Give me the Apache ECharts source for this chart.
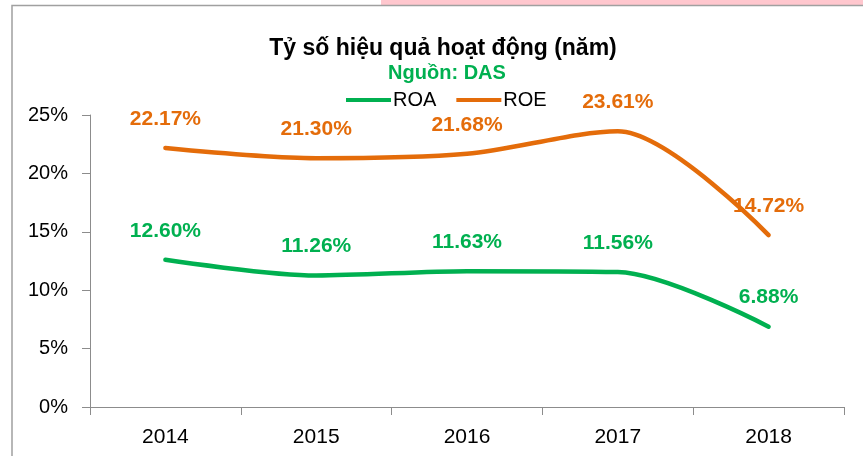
<!DOCTYPE html>
<html>
<head>
<meta charset="utf-8">
<script src="https://cdn.jsdelivr.net/npm/echarts@6/dist/echarts.min.js"></script>
<style>
  html, body { margin: 0; padding: 0; background: #fff; }
  #chart { width: 863px; height: 456px; }
</style>
</head>
<body>
<div id="chart"></div>
<script>
// data (percent)
const years = ['2014', '2015', '2016', '2017', '2018'];
const roa = [12.60, 11.26, 11.63, 11.56, 6.88];
const roe = [22.17, 21.30, 21.68, 23.61, 14.72];
const yTicks = { min: 0, max: 25, interval: 5 };

const GREEN = '#00b050';
const ORANGE = '#e46c0a';
const AXIS = '#8c8c8c';
const FONT = 'Liberation Sans, Arial, sans-serif';

const chart = echarts.init(document.getElementById('chart'), null, { renderer: 'canvas' });

function lineSeries(name, data, color) {
  return {
    name: name,
    type: 'line',
    data: data,
    smooth: 0.3,
    symbol: 'circle',
    symbolSize: 1,
    itemStyle: { color: color },
    lineStyle: { color: color, width: 4.5, cap: 'round' },
    label: {
      show: true,
      position: 'top',
      distance: 18,
      color: color,
      fontFamily: FONT,
      fontWeight: 'bold',
      fontSize: 21,
      formatter: (p) => p.value.toFixed(2) + '%',
    },
  };
}

chart.setOption({
  animation: false,
  backgroundColor: '#fff',
  title: [
    {
      text: 'Tỷ số hiệu quả hoạt động (năm)',
      left: 438, top: 32, textAlign: 'center',
      textStyle: { fontFamily: FONT, fontWeight: 'bold', fontSize: 23, color: '#000' },
    },
    {
      text: 'Nguồn: DAS',
      left: 442, top: 58, textAlign: 'center',
      textStyle: { fontFamily: FONT, fontWeight: 'bold', fontSize: 20, color: GREEN },
    },
  ],
  legend: {
    left: 341, top: 85,
    icon: 'rect',
    itemWidth: 45, itemHeight: 4,
    itemGap: 20,
    textStyle: { fontFamily: FONT, fontSize: 20, color: '#000', padding: [0, 0, 0, -3] },
    data: ['ROA', 'ROE'],
  },
  grid: { left: 90, right: 19, top: 115, bottom: 49 },
  xAxis: {
    type: 'category',
    data: years,
    boundaryGap: true,
    axisLine: { lineStyle: { color: AXIS, width: 1 } },
    axisTick: { show: true, length: 8, alignWithLabel: false, lineStyle: { color: AXIS } },
    axisLabel: { margin: 20, color: '#000', fontFamily: FONT, fontSize: 21 },
  },
  yAxis: {
    type: 'value',
    min: yTicks.min, max: yTicks.max, interval: yTicks.interval,
    axisLine: { show: true, lineStyle: { color: AXIS, width: 1 } },
    axisTick: { show: true, length: 8, lineStyle: { color: AXIS } },
    splitLine: { show: false },
    axisLabel: { margin: 22, color: '#000', fontFamily: FONT, fontSize: 20, formatter: '{value}%' },
  },
  series: [lineSeries('ROA', roa, GREEN), lineSeries('ROE', roe, ORANGE)],
  graphic: [
    { type: 'rect', shape: { x: 381, y: 0, width: 490, height: 5 }, style: { fill: '#ffc7ce' }, silent: true },
    { type: 'polyline', shape: { points: [[12, 460], [12, 5.5], [870, 5.5]] }, style: { stroke: '#a0a0a0', lineWidth: 1.5, fill: null }, silent: true },
  ],
});
</script>
</body>
</html>
